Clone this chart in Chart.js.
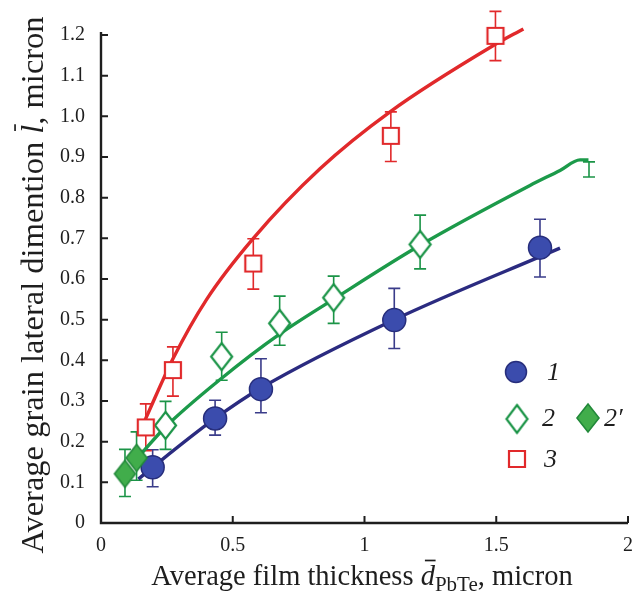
<!DOCTYPE html>
<html>
<head>
<meta charset="utf-8">
<script src="https://cdn.jsdelivr.net/npm/chart.js@4.4.1/dist/chart.umd.min.js"></script>
<style>
  html, body { margin: 0; padding: 0; background: #fff; }
  #wrap { width: 633px; height: 594px; }
</style>
</head>
<body>
<div id="wrap"><canvas id="c" width="633" height="594"></canvas></div>
<script>
// ---- Series 1: grain size vs film thickness (filled circles) ----
const s1X  = [0.196, 0.433, 0.607, 1.113, 1.666];
const s1Y  = [0.137, 0.257, 0.329, 0.499, 0.677];
const s1Lo = [0.089, 0.216, 0.271, 0.429, 0.605];
const s1Hi = [0.180, 0.302, 0.404, 0.577, 0.747];

// ---- Series 2 (open diamonds) ----
const s2X  = [0.245, 0.458, 0.678, 0.883, 1.211, 1.852];
const s2Y  = [0.240, 0.409, 0.491, 0.554, 0.685, 0.888];
const s2Lo = [0.181, 0.351, 0.437, 0.491, 0.625, 0.851];
const s2Hi = [0.299, 0.469, 0.558, 0.607, 0.757, 0.888];

// ---- Series 2' (filled diamonds) ----
const s2pX  = [0.091, 0.135];
const s2pY  = [0.121, 0.160];
const s2pLo = [0.065, 0.105];
const s2pHi = [0.181, 0.224];

// ---- Series 3 (open squares) ----
const s3X  = [0.170, 0.273, 0.578, 1.100, 1.497];
const s3Y  = [0.235, 0.376, 0.638, 0.952, 1.198];
const s3Lo = [0.178, 0.312, 0.575, 0.889, 1.137];
const s3Hi = [0.293, 0.433, 0.699, 1.011, 1.258];

// ---- Fitted curves ----
const fit1X = [0.142, 0.196, 0.433, 0.607, 1.113, 1.742];
const fit1Y = [0.108, 0.137, 0.257, 0.332, 0.500, 0.676];
const fit2X = [0.148, 0.243, 0.458, 0.679, 0.882, 1.211, 1.628, 1.742, 1.818, 1.850];
const fit2Y = [0.167, 0.235, 0.356, 0.465, 0.550, 0.683, 0.830, 0.867, 0.893, 0.893];
const fit3X = [0.167, 0.274, 0.401, 0.578, 0.831, 1.097, 1.489, 1.603];
const fit3Y = [0.253, 0.405, 0.550, 0.700, 0.871, 1.011, 1.174, 1.215];

// ---- Axis tick labels ----
const xTickLabels = ['0', '0.5', '1', '1.5', '2'];
const yTickLabels = ['0', '0.1', '0.2', '0.3', '0.4', '0.5', '0.6', '0.7', '0.8', '0.9', '1.0', '1.1', '1.2'];

const SERIF = '"Liberation Serif", "Times New Roman", serif';
const BLUE_LINE = '#2b2b80', BLUE_FILL = '#3b4cad', BLUE_EDGE = '#272e7c', BLUE_BAR = '#3a3c8a';
const GREEN_LINE = '#1c9a4a', GREEN_EDGE = '#1b9447', GREEN_FILL = '#41ad4b', GREEN_DARK = '#22893a';
const RED = '#e1292b';

const pts = (xs, ys) => xs.map((v, i) => ({ x: v, y: ys[i] }));

function markerCanvas(shape, w, h, fill, stroke, lw) {
  const pad = Math.ceil(lw);
  const c = document.createElement('canvas');
  c.width = w + 2 * pad; c.height = h + 2 * pad;
  const g = c.getContext('2d');
  g.lineWidth = lw; g.fillStyle = fill; g.strokeStyle = stroke; g.lineJoin = 'miter';
  g.beginPath();
  if (shape === 'diamond') {
    g.moveTo(pad + w / 2, pad); g.lineTo(pad + w, pad + h / 2);
    g.lineTo(pad + w / 2, pad + h); g.lineTo(pad, pad + h / 2); g.closePath();
  } else {
    g.rect(pad, pad, w, h);
  }
  g.fill(); g.stroke();
  return c;
}

const openDiamond = markerCanvas('diamond', 21, 27, '#ffffff', GREEN_EDGE, 2.2);
const fullDiamond = markerCanvas('diamond', 21, 27, GREEN_FILL, GREEN_DARK, 1.6);
const openSquare  = markerCanvas('square', 16, 16, '#ffffff', RED, 2.2);
const legDiamond  = markerCanvas('diamond', 21, 28, '#ffffff', GREEN_EDGE, 2.2);
const legFull     = markerCanvas('diamond', 22, 28, GREEN_FILL, GREEN_DARK, 1.6);
const legSquare   = markerCanvas('square', 16, 16, '#ffffff', RED, 2.2);

const errorSets = [
  { xs: s1X, lo: s1Lo, hi: s1Hi, color: BLUE_BAR },
  { xs: s2X, lo: s2Lo, hi: s2Hi, color: GREEN_EDGE },
  { xs: s2pX, lo: s2pLo, hi: s2pHi, color: GREEN_EDGE },
  { xs: s3X, lo: s3Lo, hi: s3Hi, color: RED }
];

// Vertical error bars with caps, under the markers
const errorBars = {
  id: 'errorBars',
  beforeDatasetsDraw(chart) {
    const { ctx, scales: { x, y } } = chart;
    errorSets.forEach(s => {
      ctx.save();
      ctx.strokeStyle = s.color; ctx.lineWidth = 1.6;
      s.xs.forEach((xv, i) => {
        const px = x.getPixelForValue(xv);
        const lo = y.getPixelForValue(s.lo[i]);
        const hi = y.getPixelForValue(s.hi[i]);
        ctx.beginPath();
        ctx.moveTo(px, lo); ctx.lineTo(px, hi);
        ctx.moveTo(px - 6, lo); ctx.lineTo(px + 6, lo);
        ctx.moveTo(px - 6, hi); ctx.lineTo(px + 6, hi);
        ctx.stroke();
      });
      ctx.restore();
    });
  }
};

// Axis lines with inward tick marks
const axesFrame = {
  id: 'axesFrame',
  afterDatasetsDraw(chart) {
    const { ctx, chartArea: a, scales: { x, y } } = chart;
    ctx.save();
    ctx.strokeStyle = '#1e1e1e'; ctx.lineWidth = 2.4; ctx.lineCap = 'butt';
    ctx.beginPath();
    ctx.moveTo(a.left, a.top - 3); ctx.lineTo(a.left, a.bottom);
    ctx.lineTo(a.right, a.bottom);
    ctx.stroke();
    ctx.lineWidth = 2;
    ctx.beginPath();
    y.ticks.forEach(t => {
      const py = y.getPixelForValue(t.value);
      ctx.moveTo(a.left, py); ctx.lineTo(a.left + 7, py);
    });
    x.ticks.forEach(t => {
      if (t.value === 0) return;
      const px = x.getPixelForValue(t.value);
      ctx.moveTo(px, a.bottom); ctx.lineTo(px, a.bottom - 7);
    });
    ctx.stroke();
    ctx.restore();
  }
};

function drawRich(ctx, parts, cx, baseline, size) {
  let total = 0;
  parts.forEach(p => { ctx.font = p.font; p.w = ctx.measureText(p.text).width; total += p.w; });
  let xx = cx - total / 2;
  parts.forEach(p => {
    ctx.font = p.font;
    ctx.fillText(p.text, xx, baseline + (p.dy || 0));
    if (p.bar) {
      ctx.beginPath();
      ctx.lineWidth = 1.7;
      const by = baseline - size * 0.86;
      ctx.moveTo(xx + p.w * 0.30, by); ctx.lineTo(xx + p.w * 1.05, by);
      ctx.stroke();
    }
    xx += p.w;
  });
}

// Axis titles (overlined italic symbols, subscript) and the in-plot legend
const decorations = {
  id: 'decorations',
  afterDraw(chart) {
    const { ctx } = chart;
    ctx.save();
    ctx.fillStyle = '#1e1e1e'; ctx.strokeStyle = '#1e1e1e';
    ctx.textAlign = 'left'; ctx.textBaseline = 'alphabetic';

    const xs = 28.5;
    drawRich(ctx, [
      { text: 'Average film thickness ', font: `${xs}px ${SERIF}` },
      { text: 'd', font: `italic ${xs}px ${SERIF}`, bar: true },
      { text: 'PbTe', font: `${Math.round(xs * 0.72)}px ${SERIF}`, dy: 6 },
      { text: ', micron', font: `${xs}px ${SERIF}` }
    ], 362, 585, xs);

    const ys = 32.5;
    ctx.save();
    ctx.translate(43, 285);
    ctx.rotate(-Math.PI / 2);
    drawRich(ctx, [
      { text: 'Average grain lateral dimention ', font: `${ys}px ${SERIF}` },
      { text: 'l', font: `italic ${ys}px ${SERIF}`, bar: true },
      { text: ', micron', font: `${ys}px ${SERIF}` }
    ], 0, 0, ys);
    ctx.restore();

    // legend
    ctx.beginPath();
    ctx.arc(516, 372, 10.5, 0, Math.PI * 2);
    ctx.fillStyle = BLUE_FILL; ctx.fill();
    ctx.lineWidth = 1.5; ctx.strokeStyle = BLUE_EDGE; ctx.stroke();
    const img = (c, cx, cy) => ctx.drawImage(c, cx - c.width / 2, cy - c.height / 2);
    img(legDiamond, 517, 419);
    img(legFull, 588, 418);
    img(legSquare, 517, 459);
    ctx.fillStyle = '#1e1e1e';
    ctx.font = `italic 26px ${SERIF}`;
    ctx.textBaseline = 'middle';
    ctx.fillText('1', 547, 373);
    ctx.fillText('2', 542, 419);
    ctx.fillText('2\u2032', 604, 419);
    ctx.fillText('3', 544, 460);
    ctx.restore();
  }
};

const curve = (xs, ys, color) => ({
  type: 'line', data: pts(xs, ys), borderColor: color, borderWidth: 3.4,
  pointRadius: 0, cubicInterpolationMode: 'monotone', fill: false, order: 5, clip: false
});
const markers = (xs, ys, extra) => Object.assign({
  type: 'scatter', data: pts(xs, ys), showLine: false, order: 0, clip: false
}, extra);

new Chart(document.getElementById('c'), {
  data: {
    datasets: [
      curve(fit3X, fit3Y, RED),
      curve(fit2X, fit2Y, GREEN_LINE),
      curve(fit1X, fit1Y, BLUE_LINE),
      markers(s3X, s3Y, { pointStyle: openSquare, pointRadius: 8 }),
      markers(s2X, s2Y, { pointStyle: openDiamond,
        pointRadius: c => (c.dataIndex === s2X.length - 1 ? 0 : 10) }),
      markers(s2pX, s2pY, { pointStyle: fullDiamond, pointRadius: 10 }),
      markers(s1X, s1Y, { pointStyle: 'circle', pointRadius: 11.5,
        backgroundColor: BLUE_FILL, borderColor: BLUE_EDGE, borderWidth: 1.5 })
    ]
  },
  options: {
    responsive: false,
    animation: false,
    devicePixelRatio: 1,
    layout: { autoPadding: false, padding: { top: 35, right: 5, bottom: 0, left: 0 } },
    plugins: { legend: { display: false }, tooltip: { enabled: false } },
    scales: {
      x: {
        type: 'linear', min: 0, max: 2,
        grid: { display: false, drawTicks: false },
        border: { display: false },
        afterFit: s => { s.height = 71; s.paddingLeft = 0; s.paddingRight = 0; },
        ticks: {
          stepSize: 0.5, padding: 11, color: '#1e1e1e', maxRotation: 0,
          font: { family: SERIF, size: 20 },
          callback: (v, i) => xTickLabels[i]
        }
      },
      y: {
        type: 'linear', min: 0, max: 1.2,
        grid: { display: false, drawTicks: false },
        border: { display: false },
        afterFit: s => { s.width = 101; s.paddingTop = 0; s.paddingBottom = 0; },
        ticks: {
          stepSize: 0.1, padding: 16, color: '#1e1e1e',
          font: { family: SERIF, size: 20 },
          callback: (v, i) => yTickLabels[i]
        }
      }
    }
  },
  plugins: [errorBars, axesFrame, decorations]
});
</script>
</body>
</html>
